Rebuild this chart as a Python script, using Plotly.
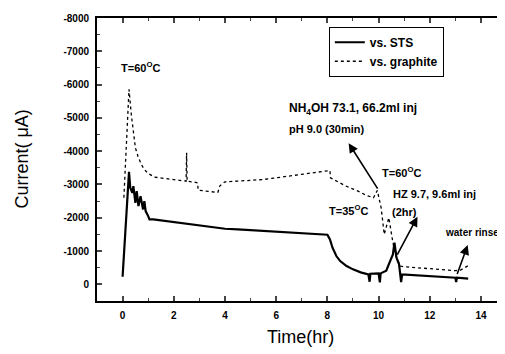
import plotly.graph_objects as go

# ---- data ----
sts_time = [0.0, 0.25, 0.3, 0.38, 0.42, 0.5, 0.55, 0.62, 0.7, 0.8, 0.85, 0.9, 1.0, 1.05, 1.2, 1.5,
            2.0, 2.5, 3.0, 3.5, 4.0, 4.5, 5.0, 5.5, 6.0, 6.5, 7.0, 7.5, 8.0, 8.1, 8.2, 8.35, 8.5,
            8.75, 9.0, 9.3, 9.6, 9.65, 9.68, 10.0, 10.05, 10.08, 10.3, 10.45, 10.56, 10.62, 10.7,
            10.8, 10.88, 10.92, 11.5, 12.0, 12.5, 13.0, 13.03, 13.06, 13.5]
sts_current = [-230, -3380, -2900, -2750, -2950, -2450, -2800, -2350, -2650, -2250, -2500, -2200,
               -2050, -1950, -1950, -1920, -1870, -1820, -1750, -1700, -1670, -1650, -1630, -1610,
               -1590, -1570, -1550, -1520, -1490, -1350, -1100, -850, -700, -550, -450, -360, -300,
               -80, -320, -330, -60, -330, -410, -700, -900, -1250, -800, -600, -70, -300, -270,
               -250, -230, -200, -70, -200, -170]

graphite_time = [0.05, 0.15, 0.25, 0.34, 0.4, 0.5, 0.6, 0.73, 0.85, 1.0, 1.25, 1.6, 2.0, 2.4, 2.48,
                 2.5, 2.52, 2.8, 2.93, 2.95, 3.3, 3.72, 3.8, 4.0, 4.5, 5.0, 5.5, 6.0, 6.6, 7.2, 7.7,
                 8.1, 8.12, 8.3, 8.7, 9.2, 9.5, 9.8, 9.95, 10.1, 10.22, 10.4, 10.5, 10.55, 10.65,
                 10.85, 11.0, 11.5, 12.0, 12.5, 13.0, 13.2, 13.5]
graphite_current = [-2600, -4500, -5860, -5100, -4650, -4100, -3850, -3600, -3450, -3330, -3220,
                    -3180, -3150, -3110, -3100, -3950, -3100, -3070, -3050, -2830, -2800, -2760,
                    -2960, -3080, -3100, -3120, -3150, -3200, -3260, -3320, -3370, -3420, -3200,
                    -3120, -2960, -2800, -2680, -2600, -2820, -2300, -1500, -2000, -1500, -1300,
                    -900, -550, -530, -500, -470, -440, -410, -430, -560]

x_ticks = [0, 2, 4, 6, 8, 10, 12, 14]
y_ticks = [-8000, -7000, -6000, -5000, -4000, -3000, -2000, -1000, 0]
y_tick_text = ["-8000", "-7000", "-6000", "-5000", "-4000", "-3000", "-2000", "-1000", "0"]

FONT = "Liberation Sans, Arial, sans-serif"

fig = go.Figure()
fig.add_trace(go.Scatter(x=sts_time, y=sts_current, mode="lines", name="vs. STS",
                         line=dict(color="black", width=2.2)))
fig.add_trace(go.Scatter(x=graphite_time, y=graphite_current, mode="lines", name="vs. graphite",
                         line=dict(color="black", width=1.3, dash="dot")))
# dummy trace to activate right-side tick axis
fig.add_trace(go.Scatter(x=[sts_time[0]], y=[sts_current[0]], yaxis="y2", mode="lines",
                         showlegend=False, hoverinfo="skip", opacity=0))

texts = [
    ("T=60<sup>O</sup>C", -0.16, -6540, 11),
    ("NH<sub>4</sub>OH 73.1, 66.2ml inj", 6.41, -5270, 12),
    ("pH 9.0 (30min)", 6.41, -4680, 11),
    ("T=60<sup>O</sup>C", 10.04, -3360, 11),
    ("T=35<sup>O</sup>C", 8.0, -2240, 11),
    ("HZ 9.7, 9.6ml inj", 10.5, -2710, 11),
    ("(2hr)", 10.43, -2180, 11),
    ("water rinse", 12.5, -1560, 10),
]
for t, x, y, s in texts:
    fig.add_annotation(x=x, y=y, text=t, showarrow=False, xanchor="left", yanchor="middle",
                       font=dict(family=FONT, size=s, color="black", weight="bold"))

arrows = [
    (8.83, -4240, 10.0, -2830),
    (11.52, -2030, 10.7, -850),
    (13.48, -1180, 13.05, -265),
]
for hx, hy, tx, ty in arrows:
    fig.add_annotation(x=hx, y=hy, ax=tx, ay=ty, xref="x", yref="y", axref="x", ayref="y",
                       text="", showarrow=True, arrowhead=2, arrowsize=1.2, arrowwidth=1.6,
                       arrowcolor="black")

# axis titles
fig.add_annotation(x=-0.187, y=0.5, xref="paper", yref="paper", text="Current( μA)",
                   textangle=-90, showarrow=False, xanchor="center", yanchor="middle",
                   font=dict(family=FONT, size=18, color="black"))
fig.add_annotation(x=0.5, y=-0.128, xref="paper", yref="paper", text="Time(hr)",
                   showarrow=False, xanchor="center", yanchor="middle",
                   font=dict(family=FONT, size=18, color="black"))

tickfont = dict(family=FONT, size=10, color="black", weight="bold")
fig.update_layout(
    width=505, height=354,
    margin=dict(l=89, r=10, t=4, b=61),
    paper_bgcolor="white", plot_bgcolor="white",
    showlegend=True,
    legend=dict(x=0.571, y=0.969, xanchor="left", yanchor="top",
                bordercolor="black", borderwidth=1, bgcolor="white",
                font=dict(family=FONT, size=12, color="black", weight="bold")),
    xaxis=dict(range=[-1, 14.86], tickvals=x_ticks, ticks="inside", ticklen=5, tickwidth=1.5,
               showline=True, linewidth=2, linecolor="black", mirror="ticks",
               showgrid=False, zeroline=False, tickfont=tickfont, ticklabelstandoff=4,
               minor=dict(ticks="inside", ticklen=3, tickwidth=1.2, dtick=1, tick0=0,
                          showgrid=False)),
    yaxis=dict(range=[500, -8000], tickvals=y_ticks, ticktext=y_tick_text, ticks="inside",
               ticklen=5, tickwidth=1.5, showline=True, linewidth=2, linecolor="black",
               showgrid=False, zeroline=False, tickfont=tickfont, ticklabelstandoff=4,
               minor=dict(ticks="inside", ticklen=3, tickwidth=1.2, dtick=500, tick0=0,
                          showgrid=False)),
    yaxis2=dict(range=[500, -8000], overlaying="y", side="right", tickvals=y_ticks,
                showticklabels=False, ticks="inside", ticklen=5, tickwidth=1.5,
                showline=False, showgrid=False, zeroline=False,
                minor=dict(ticks="inside", ticklen=3, tickwidth=1.2, dtick=500, tick0=0,
                           showgrid=False)),
)

fig.write_html("out.html")
